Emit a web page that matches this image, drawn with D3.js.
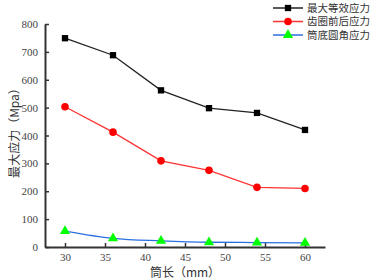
<!DOCTYPE html>
<html>
<head>
<meta charset="utf-8">
<script src="https://cdn.jsdelivr.net/npm/d3@7"></script>
<style>
body { margin: 0; background: #fff; }
</style>
</head>
<body>
<svg id="chart" width="377" height="279"></svg>
<script>
// data
var lengths = [30, 36, 42, 48, 54, 60]
var maxStress = [749, 688, 562, 498, 481, 420]
var gearStress = [503, 412, 309, 275, 214, 210]
var filletStress = [57, 31, 22, 17, 16, 15]
var seriesNames = ["最大等效应力", "齿圈前后应力", "筒底圆角应力"]
var xTicks = [30, 35, 40, 45, 50, 55, 60]
var yTicks = [0, 100, 200, 300, 400, 500, 600, 700, 800]

var svg = d3.select("#chart")
var plotLeft = 45, plotRight = 325, plotTop = 24, plotBottom = 247

var x = d3.scaleLinear().domain([27.5, 62.5]).range([plotLeft, plotRight])
var y = d3.scaleLinear().domain([0, 800]).range([plotBottom, plotTop])

var numFont = "'Liberation Serif', serif"
var cjkFont = "'Noto Sans CJK SC', sans-serif"

// axes, ticks point inward
svg.append("g")
    .attr("transform", "translate(0," + plotBottom + ")")
    .call(d3.axisBottom(x).tickValues(xTicks).tickSizeInner(-4).tickSizeOuter(0).tickPadding(6))
svg.append("g")
    .attr("transform", "translate(" + plotLeft + ",0)")
    .call(d3.axisLeft(y).tickValues(yTicks).tickSizeInner(-4).tickSizeOuter(0).tickPadding(7))

svg.selectAll(".domain").attr("stroke", "#333").attr("stroke-width", 2)
svg.selectAll(".tick line").attr("stroke", "#333").attr("stroke-width", 1.5)
svg.selectAll(".tick text").attr("font-family", numFont).attr("font-size", 11).attr("fill", "#444")

// axis titles
svg.append("text")
    .attr("x", 185).attr("y", 277)
    .attr("text-anchor", "middle")
    .attr("font-family", cjkFont).attr("font-size", 12).attr("fill", "#333")
    .text("筒长（mm）")
svg.append("text")
    .attr("transform", "translate(19,130) rotate(-90)")
    .attr("text-anchor", "middle")
    .attr("font-family", cjkFont).attr("font-size", 12).attr("fill", "#333")
    .text("最大应力（Mpa）")

var series = [
    {name: seriesNames[0], values: maxStress, line: "#222", fill: "#000", shape: d3.symbolSquare, size: 40, curve: d3.curveLinear},
    {name: seriesNames[1], values: gearStress, line: "#ff3333", fill: "#ff0000", shape: d3.symbolCircle, size: 45, curve: d3.curveLinear},
    {name: seriesNames[2], values: filletStress, line: "#2a6fe0", fill: "#00ff00", shape: d3.symbolTriangle, size: 45, curve: d3.curveMonotoneX}
]

series.forEach(function (s) {
    var pts = lengths.map((d, i) => [d, s.values[i]])
    var line = d3.line().x(d => x(d[0])).y(d => y(d[1])).curve(s.curve)
    svg.append("path")
        .attr("d", line(pts))
        .attr("fill", "none")
        .attr("stroke", s.line)
        .attr("stroke-width", 1.3)
    svg.selectAll(null)
        .data(pts)
        .enter()
        .append("path")
        .attr("transform", d => "translate(" + x(d[0]) + "," + y(d[1]) + ")")
        .attr("d", d3.symbol().type(s.shape).size(s.size))
        .attr("fill", s.fill)
})

// legend
var legend = svg.append("g").attr("transform", "translate(273,8)")
series.forEach(function (s, i) {
    var g = legend.append("g").attr("transform", "translate(0," + (i * 13.5) + ")")
    g.append("line").attr("x1", 0).attr("x2", 30).attr("y1", 0).attr("y2", 0)
        .attr("stroke", s.line).attr("stroke-width", 1.5)
    g.append("path").attr("transform", "translate(15,0)")
        .attr("d", d3.symbol().type(s.shape).size(s.size))
        .attr("fill", s.fill)
    g.append("text").attr("x", 34).attr("y", 0).attr("dy", "0.35em")
        .attr("font-family", cjkFont).attr("font-size", 10.5).attr("fill", "#333")
        .text(s.name)
})
</script>
</body>
</html>
